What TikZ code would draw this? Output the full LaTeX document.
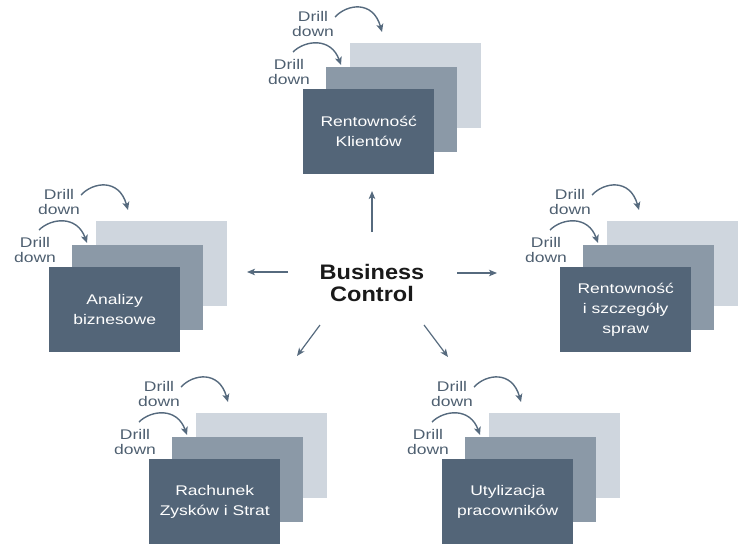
\documentclass[tikz,border=0pt]{standalone}
\usepackage{fontspec}
\setmainfont[FakeStretch=1.25]{Liberation Sans}
\newfontfamily\bcfont[FakeStretch=1.12]{Liberation Sans}
\usetikzlibrary{arrows.meta,calc}
\definecolor{cfront}{HTML}{536578}
\definecolor{cmid}{HTML}{8B99A7}
\definecolor{cback}{HTML}{CFD6DE}
\definecolor{ctext}{HTML}{4E5F70}
\definecolor{carrow}{HTML}{566A7E}
\definecolor{cbc}{HTML}{1A1A1A}
\tikzset{
  layer/.style={minimum width=131pt, minimum height=85pt, inner sep=0pt, anchor=north west, draw=none},
  frontbox/.style={layer, fill=cfront, text=white, font=\fontsize{14}{20}\selectfont, align=center},
  midbox/.style={layer, fill=cmid},
  backbox/.style={layer, fill=cback},
  drilltext/.style={text=ctext, font=\fontsize{14}{15}\selectfont, align=center, inner sep=0pt},
  ddarrow/.style={draw=carrow, line width=1.4pt, -{Stealth[length=8pt,width=7pt,inset=2pt]}},
  mainarrow/.style={draw=carrow, line width=1.2pt, -{Stealth[length=8pt,width=6.5pt,inset=2pt]}},
  bctext/.style={text=cbc, font=\bcfont\bfseries\fontsize{21}{22}\selectfont, align=center, inner sep=0pt}
}
\newcommand\drillgroup[4]{%
  \node[backbox] (#1c) at (#2+47,#3-46) {};
  \node[midbox] (#1b) at (#2+23,#3-22) {};
  \node[frontbox] (#1a) at (#2,#3) {#4};
  \node[drilltext] (#1u) at (#2+10,#3-65) {Drill\\down};
  \node[drilltext] (#1l) at (#2-14,#3-17) {Drill\\down};
  \coordinate (#1us) at (#2+32,#3-72);
  \coordinate (#1ue) at (#2+79,#3-57);
  \coordinate (#1ls) at (#2-10,#3-37);
  \coordinate (#1le) at (#2+38,#3-24);
  \draw[ddarrow] (#1us) .. controls ($(#1us)+(12,-13)$) and ($(#1us)+(38,-17)$) .. (#1ue);
  \draw[ddarrow] (#1ls) .. controls ($(#1ls)+(12,-12)$) and ($(#1ls)+(38,-15)$) .. (#1le);
}
\begin{document}
\begin{tikzpicture}[x=1pt,y=-1pt]
\useasboundingbox (0,0) rectangle (743,543);
\drillgroup{top}{303}{89}{Rentowność\\Klientów}
\drillgroup{lft}{49}{267}{Analizy\\biznesowe}
\drillgroup{rgt}{560}{267}{Rentowność\\i szczegóły\\spraw}
\drillgroup{bl}{149}{459}{Rachunek\\Zysków i Strat}
\drillgroup{br}{442}{459}{Utylizacja\\pracowników}
\node[bctext] (bc) at (372,283) {Business\\Control};
\coordinate (uS) at (372,232);
\coordinate (uE) at (372,191);
\coordinate (rS) at (457,273);
\coordinate (rE) at (497,273);
\coordinate (lS) at (288,272);
\coordinate (lE) at (247,272);
\coordinate (llS) at (320,325);
\coordinate (llE) at (297,356);
\coordinate (lrS) at (424,325);
\coordinate (lrE) at (448,357);
\draw[mainarrow] (uS) -- (uE);
\draw[mainarrow] (rS) -- (rE);
\draw[mainarrow] (lS) -- (lE);
\draw[mainarrow] (llS) -- (llE);
\draw[mainarrow] (lrS) -- (lrE);
\end{tikzpicture}
\end{document}
